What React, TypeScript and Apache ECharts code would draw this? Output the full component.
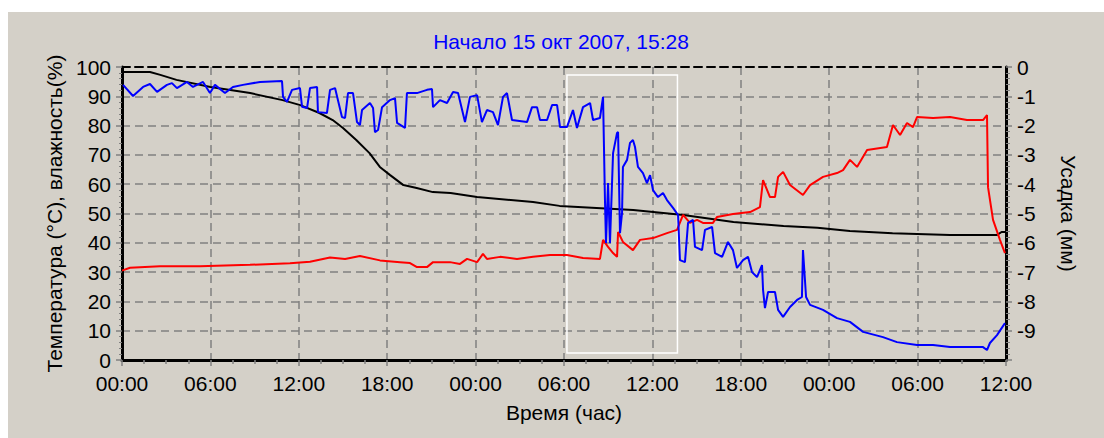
import React, { useEffect, useRef } from "react";
import * as echarts from "echarts";

const titleText = "Начало 15 окт 2007, 15:28";
const xAxisName = "Время (час)";
const leftAxisName = "Температура (°C), влажность(%)";
const rightAxisName = "Усадка (мм)";

// [hours since start, humidity %]
const humidity: [number, number][] = [
  [0.07, 93.9], [0.75, 90.1], [1.43, 93.2], [1.9, 94.2], [2.38, 91.5], [3.05, 93.9], [3.39, 94.5],
  [3.73, 92.8], [4.41, 94.9], [4.82, 93.2], [5.5, 94.9], [5.97, 91.1], [6.31, 93.9], [6.99, 91.1],
  [7.53, 93.2], [8.21, 93.9], [9.37, 94.9], [10.86, 95.2], [10.93, 89.8], [11.2, 88.1], [11.54, 92.2],
  [12.08, 92.8], [12.22, 86.4], [12.56, 86], [12.76, 92.8], [13.24, 93.2], [13.3, 84.6], [13.91, 84.3],
  [14.12, 92.2], [14.46, 92.8], [14.93, 82.9], [15.14, 82.6], [15.34, 91.1], [15.68, 91.1], [15.95, 81.2],
  [16.15, 80.2], [16.29, 85.3], [16.83, 87.7], [17.04, 86], [17.17, 77.8], [17.38, 78.5], [17.65, 86.3],
  [18.19, 88.7], [18.53, 89.4], [18.67, 80.9], [19.21, 79.2], [19.34, 91.1], [20.02, 91.1], [20.7, 92.2],
  [21.04, 92.5], [21.11, 86.3], [21.58, 88.7], [22.06, 87.7], [22.47, 91.5], [22.81, 91.1], [23.28, 81.2],
  [23.62, 89.8], [24.1, 90.4], [24.43, 81.2], [24.77, 85.3], [25.18, 84.6], [25.52, 80.2], [25.86, 89.8],
  [26.13, 91.1], [26.47, 81.9], [27.49, 81.2], [27.83, 86.3], [28.17, 86.3], [28.37, 81.9], [28.85, 81.9],
  [29.19, 87], [29.53, 87], [29.73, 79.5], [30.2, 79.5], [30.61, 85.3], [30.88, 79.2], [31.29, 86.3],
  [31.77, 87.7], [31.97, 81.9], [32.44, 82.6], [32.65, 89.8], [32.78, 54.6], [32.85, 39.9], [32.99, 60.4],
  [33.12, 39.9], [33.33, 70.6], [33.6, 77.5], [33.67, 77.8], [33.8, 43.3], [33.94, 50.2], [34.0, 65.9],
  [34.28, 68.3], [34.48, 74.1], [34.68, 75.1], [34.82, 72.7], [35.02, 65.9], [35.36, 63.8], [35.63, 60.4],
  [35.84, 63.1], [36.04, 58], [36.38, 55.6], [36.72, 57], [36.99, 54.6], [37.4, 51.9], [37.74, 49.5],
  [37.87, 34.1], [38.21, 33.4], [38.42, 46.8], [38.76, 47.8], [38.89, 38.6], [39.37, 37.5], [39.57, 44.4],
  [40.05, 45.4], [40.25, 36.5], [40.73, 35.2], [41.13, 40.3], [41.47, 37.5], [41.74, 31.4], [42.15, 34.1],
  [42.49, 35.2], [42.76, 30], [43.1, 28.3], [43.44, 32.4], [43.51, 23.9], [43.64, 17.7], [43.85, 23.2],
  [44.32, 23.2], [44.53, 17.1], [44.87, 14.7], [45.34, 18.1], [45.82, 20.5], [46.15, 21.5], [46.22, 37.5],
  [46.43, 21.5], [46.7, 18.8], [47.58, 17.1], [48.53, 14.3], [49.41, 13], [50.3, 9.6], [51.65, 7.8],
  [52.6, 6.1], [53.96, 5.1], [55.05, 5.1], [56.2, 4.4], [58.44, 4.4], [58.71, 3.4], [58.91, 5.8],
  [59.39, 8.5], [59.93, 12.6],
];

// [hours since start, temperature °C]
const temperature: [number, number][] = [
  [0, 30.5], [0.54, 31.5], [2.58, 32], [5.29, 32], [8.69, 32.5], [11.4, 33], [12.76, 33.5], [14.12, 35],
  [15.14, 34.5], [16.15, 35.5], [17.51, 34], [18.87, 33.4], [19.55, 33.1], [20.02, 31.7], [20.7, 31.7],
  [21.11, 33.4], [22.26, 33.4], [22.94, 32.8], [23.42, 34.5], [24.1, 33.4], [24.5, 36.2], [24.77, 34.5],
  [25.66, 35.2], [26.81, 34.5], [27.9, 35.2], [29.05, 35.8], [30.2, 35.8], [31.29, 34.8], [32.44, 34.5],
  [32.65, 41], [32.99, 38.6], [33.33, 36.5], [33.6, 35.2], [33.67, 43.7], [34.0, 40.3], [34.68, 37.5],
  [35.16, 41], [36.04, 41.6], [36.99, 43.3], [37.67, 44.4], [38.08, 49.5], [38.55, 46.8], [39.03, 47.8],
  [39.43, 46.8], [40.11, 46.8], [40.38, 48.8], [41.47, 49.8], [42.63, 50.5], [43.3, 52.2], [43.51, 61.4],
  [43.98, 55.6], [44.32, 55.6], [44.53, 62.5], [44.87, 64.2], [45.34, 59.7], [46.22, 56.3], [46.7, 59.7],
  [47.58, 62.5], [48.53, 63.8], [48.94, 64.8], [49.41, 68.3], [49.89, 65.9], [50.57, 71.7], [51.92, 72.7],
  [52.33, 80.2], [52.81, 76.8], [53.28, 80.9], [53.69, 79.5], [53.96, 82.9], [55.05, 82.6], [56.2, 82.9],
  [57.35, 81.9], [58.44, 81.9], [58.71, 83.6], [58.78, 59], [59.12, 47.8], [59.59, 41], [59.93, 36.5],
];

// [hours since start, shrinkage mm]
const shrinkage: [number, number][] = [
  [0, -0.17], [1.9, -0.17], [2.6, -0.27], [3.7, -0.44], [6.0, -0.68], [8.7, -0.89], [10.9, -1.13],
  [12.1, -1.3], [13.4, -1.57], [14.3, -1.81], [15.0, -2.08], [15.9, -2.49], [16.8, -2.94], [17.5, -3.41],
  [18.2, -3.69], [19.1, -4.03], [20.0, -4.13], [21.1, -4.27], [22.3, -4.3], [24.1, -4.44], [27.9, -4.61],
  [29.7, -4.74], [34.7, -4.88], [38.1, -5.05], [41.5, -5.29], [44.9, -5.43], [47.2, -5.49], [49.4, -5.6],
  [52.3, -5.67], [56.2, -5.73], [59.4, -5.73], [59.7, -5.63], [60, -5.63],
];

// selection rectangle: [hour, humidity] corners
const selectionFrom: [number, number] = [30.2, 97.3];
const selectionTo: [number, number] = [37.7, 2.4];

const FONT = "Liberation Sans";
const FS = 21;
const fmtHour = (v: number) => String(Math.round(v) % 24).padStart(2, "0") + ":00";

export default function App() {
  const ref = useRef<HTMLDivElement>(null);
  useEffect(() => {
    if (!ref.current) return;
    const chart = echarts.init(ref.current, undefined, { renderer: "svg" });
    const gridLine = { show: true, lineStyle: { color: "#808080", type: [8, 5] as any, width: 1.5 } };
    chart.setOption({
      animation: false,
      backgroundColor: "#d4d0c8",
      textStyle: { fontFamily: FONT },
      title: {
        text: titleText,
        left: 553,
        textAlign: "center",
        top: 19,
        padding: 0,
        textStyle: { color: "#0000ff", fontSize: FS, fontWeight: "normal", fontFamily: FONT },
      },
      grid: { left: 114, right: 98, top: 55, bottom: 78 },
      xAxis: [
        {
          type: "value",
          min: 0,
          max: 60,
          interval: 6,
          position: "bottom",
          name: xAxisName,
          nameLocation: "middle",
          nameGap: 42,
          nameTextStyle: { color: "#000", fontSize: FS, fontFamily: FONT },
          axisLine: { show: true, onZero: false, lineStyle: { color: "#000", width: 3 } },
          axisTick: { show: true, length: 6, lineStyle: { color: "#808080", width: 1.5 } },
          minorTick: { show: true, splitNumber: 4, length: 4, lineStyle: { color: "#808080", width: 1.5 } },
          axisLabel: { color: "#000", fontSize: FS, margin: 13, fontFamily: FONT, formatter: fmtHour },
          splitLine: gridLine,
        },
        {
          type: "value",
          min: 0,
          max: 60,
          position: "top",
          axisLine: { show: true, onZero: false, lineStyle: { color: "#000", width: 2, type: [8, 5] as any } },
          axisTick: { show: false },
          axisLabel: { show: false },
          splitLine: { show: false },
        },
      ],
      yAxis: [
        {
          type: "value",
          min: 0,
          max: 100,
          interval: 10,
          position: "left",
          name: leftAxisName,
          nameLocation: "middle",
          nameGap: 57,
          nameTextStyle: { color: "#000", fontSize: FS, fontFamily: FONT },
          axisLine: { show: true, onZero: false, lineStyle: { color: "#000", width: 3 } },
          axisTick: { show: true, length: 6, lineStyle: { color: "#808080", width: 1.5 } },
          minorTick: { show: true, splitNumber: 5, length: 3, lineStyle: { color: "#808080", width: 1 } },
          axisLabel: { color: "#000", fontSize: FS, margin: 11, fontFamily: FONT },
          splitLine: gridLine,
        },
        {
          type: "value",
          min: -10,
          max: 0,
          interval: 1,
          position: "right",
          name: rightAxisName,
          nameLocation: "middle",
          nameRotate: -90,
          nameGap: 52,
          nameTextStyle: { color: "#000", fontSize: FS, fontFamily: FONT },
          axisLine: { show: true, onZero: false, lineStyle: { color: "#000", width: 3 } },
          axisTick: { show: true, length: 6, lineStyle: { color: "#808080", width: 1.5 } },
          minorTick: { show: true, splitNumber: 5, length: 4, lineStyle: { color: "#808080", width: 1 } },
          axisLabel: {
            color: "#000",
            fontSize: FS,
            margin: 11,
            fontFamily: FONT,
            formatter: (v: number) => (v === -10 ? "" : String(v)),
          },
          splitLine: { show: false },
        },
      ],
      series: [
        {
          name: "Усадка",
          type: "line",
          xAxisIndex: 0,
          yAxisIndex: 1,
          data: shrinkage,
          showSymbol: false,
          symbol: "none",
          lineStyle: { color: "#000", width: 2 },
          z: 3,
        },
        {
          name: "Температура",
          type: "line",
          xAxisIndex: 0,
          yAxisIndex: 0,
          data: temperature,
          showSymbol: false,
          symbol: "none",
          lineStyle: { color: "#ff0000", width: 2 },
          z: 4,
        },
        {
          name: "Влажность",
          type: "line",
          xAxisIndex: 0,
          yAxisIndex: 0,
          data: humidity,
          showSymbol: false,
          symbol: "none",
          lineStyle: { color: "#0000ff", width: 2 },
          z: 5,
          markArea: {
            silent: true,
            label: { show: false },
            itemStyle: { color: "rgba(0,0,0,0)", borderColor: "#ffffff", borderWidth: 1.5 },
            data: [[{ coord: selectionFrom }, { coord: selectionTo }]],
          },
        },
      ],
    });
    return () => chart.dispose();
  }, []);
  return (
    <div style={{ position: "fixed", left: 0, top: 0, width: 1104, height: 438, background: "#fff" }}>
      <div ref={ref} style={{ position: "absolute", left: 8, top: 12, width: 1096, height: 426 }} />
    </div>
  );
}
